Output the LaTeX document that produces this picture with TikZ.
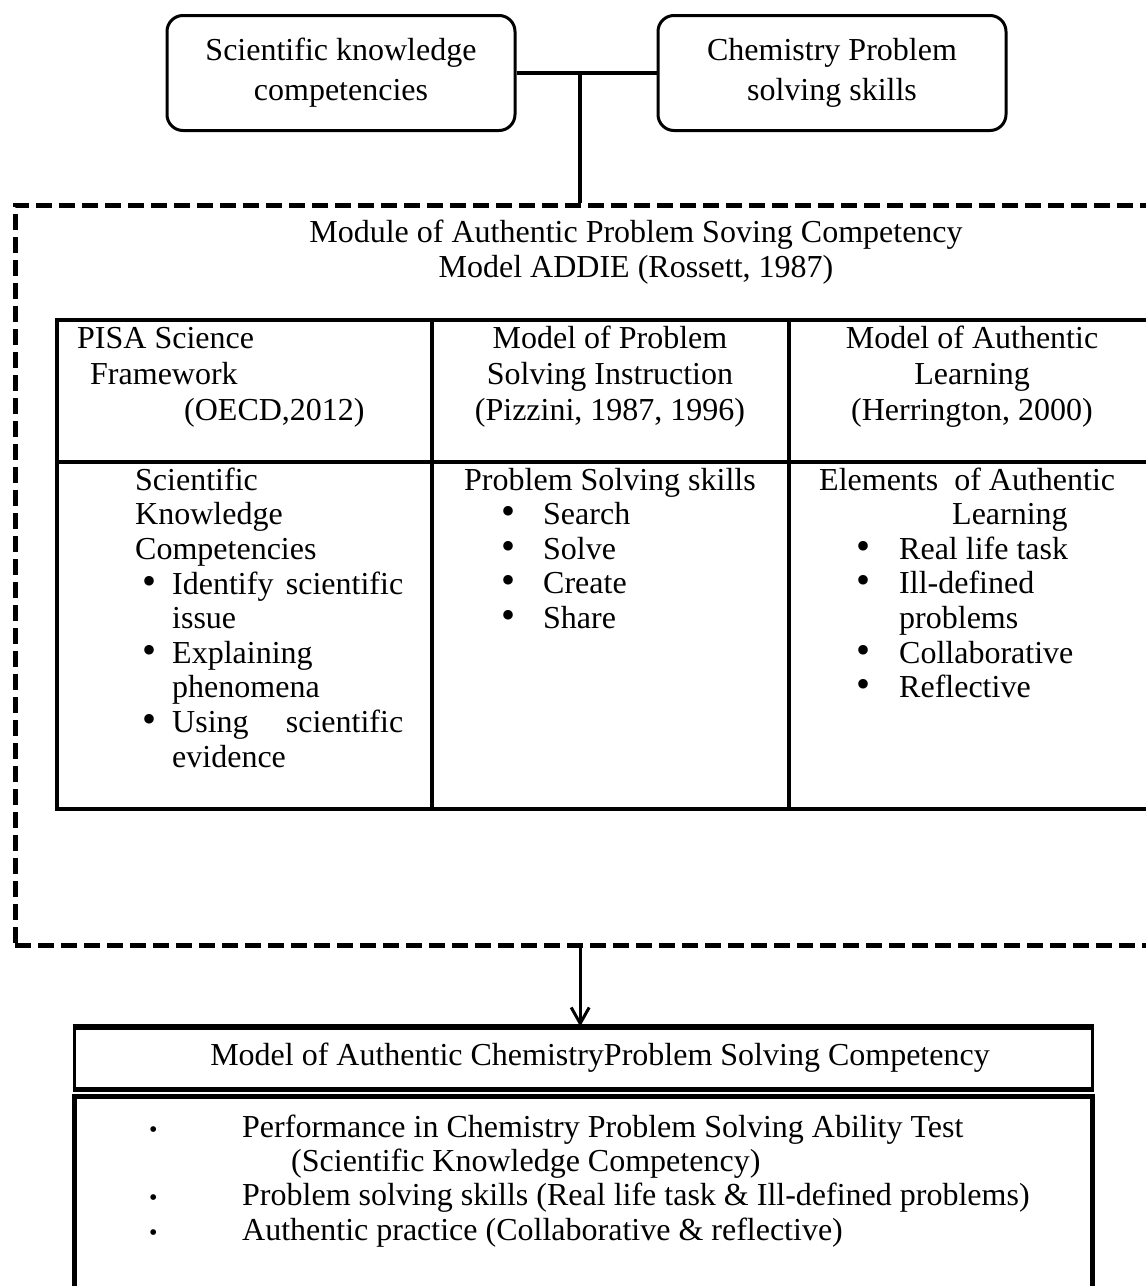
\documentclass[tikz,border=0pt]{standalone}
\usepackage{fontspec}
\setmainfont{Liberation Serif}
\usetikzlibrary{arrows.meta,calc}
\pgfkeys{tikz/topbox/.style={draw,line width=3pt,rounded corners=16pt,minimum width=348pt,minimum height=115pt,align=center,inner sep=0pt,font=\fontsize{32}{40}\selectfont}}
\pgfkeys{tikz/modulebox/.style={draw,line width=5pt,dash pattern=on 16pt off 7pt,minimum width=1155pt,minimum height=740pt,inner sep=0pt}}
\pgfkeys{tikz/celltext/.style={inner sep=0pt,font=\fontsize{32}{34.6}\selectfont}}
\pgfkeys{tikz/headtext/.style={inner sep=0pt,font=\fontsize{32}{36}\selectfont}}
\pgfkeys{tikz/link/.style={line width=4.5pt}}
\pgfkeys{tikz/tableline/.style={line width=3.5pt}}
\newcommand\cellbullet[2]{\makebox[#1][l]{\scalebox{1.25}{\textbullet}}#2}
\newcommand\cellfill[2]{\makebox[#1][s]{#2}}
\newcommand\outbullet{\makebox[94pt][l]{\hspace*{1pt}\scalebox{0.75}{\textbullet}}}

\begin{document}
\begin{tikzpicture}[x=1pt,y=-1pt]
    \clip (0,0) rectangle (1146,1286);
    \node[topbox] (sk) at (341,73) {Scientific knowledge\\competencies};
    \node[topbox] (cp) at (832,73) {Chemistry Problem\\solving skills};
    \node[modulebox] (module) at (592.5,575) {};
    \coordinate (jn) at ($(sk.east)!0.455!(cp.west)$);
    \draw[link] (sk.east) -- (cp.west);
    \draw[link] (jn) -- (jn |- module.north);
    \node[celltext,align=center] (modtitle) at (636,252) {Module of Authentic Problem Soving Competency\\Model ADDIE (Rossett, 1987)};
    \draw[tableline] (57,320) rectangle (1175,809);
    \draw[tableline] (57,462) -- (1175,462) (432,320) -- (432,809) (789,320) -- (789,809);
    \node[headtext,anchor=base west,align=left] (pisa) at (77,420) {PISA Science\\\hspace*{13pt}Framework\\\hspace*{107pt}(OECD,2012)};
    \node[headtext,anchor=base,align=center] (pizzini) at (610,420) {Model of Problem\\Solving Instruction\\(Pizzini, 1987, 1996)};
    \node[headtext,anchor=base,align=center] (herrington) at (972,420) {Model of Authentic\\Learning\\(Herrington, 2000)};
    \node[celltext,anchor=base west,align=left] (pisabody) at (135,767) {Scientific\\Knowledge\\Competencies\\
        \hspace*{7pt}\cellbullet{30pt}{\cellfill{231pt}{Identify scientific}}\\
        \hspace*{37pt}issue\\
        \hspace*{7pt}\cellbullet{30pt}{Explaining}\\
        \hspace*{37pt}phenomena\\
        \hspace*{7pt}\cellbullet{30pt}{\cellfill{231pt}{Using scientific}}\\
        \hspace*{37pt}evidence};
    \node[celltext,anchor=base west,align=left] (pizzinibody) at (464,628.4) {Problem Solving skills\\
        \hspace*{37pt}\cellbullet{42pt}{Search}\\
        \hspace*{37pt}\cellbullet{42pt}{Solve}\\
        \hspace*{37pt}\cellbullet{42pt}{Create}\\
        \hspace*{37pt}\cellbullet{42pt}{Share}};
    \node[celltext,anchor=base west,align=left] (herringtonbody) at (819,697.6) {Elements\ \ of Authentic\\
        \hspace*{133pt}Learning\\
        \hspace*{37pt}\cellbullet{43pt}{Real life task}\\
        \hspace*{37pt}\cellbullet{43pt}{Ill-defined}\\
        \hspace*{80pt}problems\\
        \hspace*{37pt}\cellbullet{43pt}{Collaborative}\\
        \hspace*{37pt}\cellbullet{43pt}{Reflective}};
    \node[draw,line width=3pt,minimum width=1018pt,minimum height=60pt,celltext] (chem) at (583,1058) {\hspace*{34pt}Model of Authentic ChemistryProblem Solving Competency};
    \draw[line width=5pt] (chem.north west) -- (chem.north east) (chem.south west) -- (chem.south east);
    \draw[line width=3pt,-{Straight Barb[length=16pt,width=18pt]}] (jn |- module.south) -- (jn |- chem.north);
    \node[draw,line width=5pt,minimum width=1018pt,minimum height=220pt,inner sep=0pt] (outcome) at (583,1206) {};
    \node[celltext,anchor=base west,align=left,font=\fontsize{32}{34.3}\selectfont] (outcomelist) at (148,1240) {\outbullet Performance in Chemistry Problem Solving Ability Test\\
        \hspace*{143pt}(Scientific Knowledge Competency)\\
        \outbullet Problem solving skills (Real life task \& Ill-defined problems)\\
        \outbullet Authentic practice (Collaborative \& reflective)};
\end{tikzpicture}
\end{document}
